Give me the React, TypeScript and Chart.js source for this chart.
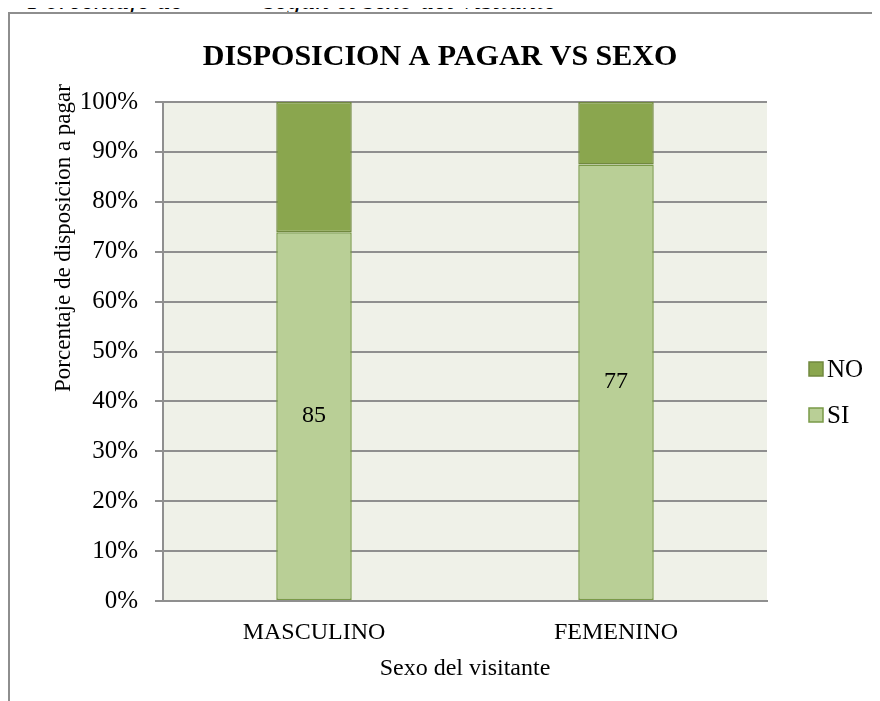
import React, { useEffect, useRef } from 'react';
import { Chart, registerables } from 'chart.js';

Chart.register(...registerables);

// ---------- data ----------
const categories = ['MASCULINO', 'FEMENINO'];
const siCounts = [85, 77];
const noCounts = [30, 11];
const seriesNames = ['SI', 'NO'];
const yTickValues = [0, 10, 20, 30, 40, 50, 60, 70, 80, 90, 100];
const chartTitle = 'DISPOSICION A PAGAR VS SEXO';
const yAxisTitle = 'Porcentaje de disposicion a pagar';
const xAxisTitle = 'Sexo del visitante';
const captionStart = 'Porcentaje de';
const captionEnd = 'según el sexo del visitante';

// ---------- styles ----------
const SERIF = "'Liberation Serif', 'Times New Roman', serif";
const SI_FILL = '#b9cf96';
const SI_BORDER = '#7a9a48';
const NO_FILL = '#8aa64e';
const NO_BORDER = '#71893f';
const PLOT_BG = '#eff1e8';
const GRID = '#8f8f8f';

const totals = siCounts.map((v, i) => v + noCounts[i]);
const siPct = siCounts.map((v, i) => (v / totals[i]) * 100);
const noPct = noCounts.map((v, i) => (v / totals[i]) * 100);

const decorPlugin = {
  id: 'decor',
  beforeDraw(chart: any) {
    const { ctx, chartArea: a } = chart;
    ctx.save();
    ctx.fillStyle = PLOT_BG;
    ctx.fillRect(a.left, a.top, a.right - a.left, a.bottom - a.top);
    ctx.restore();
  },
  afterDatasetsDraw(chart: any) {
    const { ctx } = chart;
    const meta = chart.getDatasetMeta(0);
    ctx.save();
    ctx.font = `24px ${SERIF}`;
    ctx.fillStyle = '#000';
    ctx.textAlign = 'center';
    ctx.textBaseline = 'middle';
    meta.data.forEach((el: any, i: number) => {
      const p = el.getProps(['x', 'y', 'base'], true);
      ctx.fillText(String(siCounts[i]), p.x, (p.y + p.base) / 2);
    });
    ctx.restore();
  },
  afterDraw(chart: any) {
    const { ctx } = chart;
    ctx.save();
    // main title
    ctx.fillStyle = '#000';
    ctx.font = `bold 30px ${SERIF}`;
    ctx.textAlign = 'center';
    ctx.textBaseline = 'middle';
    ctx.fillText(chartTitle, 430, 43);
    // y axis title
    ctx.save();
    ctx.translate(54, 224);
    ctx.rotate(-Math.PI / 2);
    ctx.font = `23px ${SERIF}`;
    ctx.fillText(yAxisTitle, 0, 0);
    ctx.restore();
    // legend (reverse order: NO on top)
    const items = chart.data.datasets.map((d: any) => d).reverse();
    ctx.font = `25px ${SERIF}`;
    ctx.textAlign = 'left';
    items.forEach((d: any, i: number) => {
      const cy = 355 + i * 46;
      ctx.fillStyle = d.backgroundColor;
      ctx.fillRect(799, cy - 7, 14, 14);
      ctx.strokeStyle = d.borderColor;
      ctx.lineWidth = 1.5;
      ctx.strokeRect(799, cy - 7, 14, 14);
      ctx.fillStyle = '#000';
      ctx.fillText(d.label, 817, cy + 1);
    });
    ctx.restore();
  },
};

export default function App() {
  const ref = useRef<HTMLCanvasElement | null>(null);

  useEffect(() => {
    if (!ref.current) return;
    const chart = new Chart(ref.current, {
      type: 'bar',
      data: {
        labels: categories,
        datasets: [
          {
            label: seriesNames[0],
            data: siPct,
            backgroundColor: SI_FILL,
            borderColor: SI_BORDER,
            borderWidth: 1.5,
            borderSkipped: false,
            barPercentage: 0.5,
            categoryPercentage: 0.5,
          },
          {
            label: seriesNames[1],
            data: noPct,
            backgroundColor: NO_FILL,
            borderColor: NO_BORDER,
            borderWidth: 1.5,
            borderSkipped: false,
            barPercentage: 0.5,
            categoryPercentage: 0.5,
          },
        ],
      },
      options: {
        responsive: false,
        animation: false,
        layout: { padding: { top: 88, left: 0, right: 113, bottom: 18 } },
        plugins: {
          legend: { display: false },
          title: { display: false },
          tooltip: { enabled: false },
        },
        scales: {
          x: {
            stacked: true,
            grid: { display: false },
            border: { display: true, color: GRID, width: 2 },
            ticks: {
              color: '#000',
              padding: 9,
              font: { family: SERIF, size: 24 },
            },
            title: {
              display: true,
              text: xAxisTitle,
              color: '#000',
              padding: { top: 0, bottom: 0 },
              font: { family: SERIF, size: 24 },
            },
            afterFit(scale: any) {
              scale.height = 82;
            },
          },
          y: {
            stacked: true,
            min: 0,
            max: 100,
            afterBuildTicks(scale: any) {
              scale.ticks = yTickValues.map((v) => ({ value: v }));
            },
            grid: { color: GRID, lineWidth: 2, tickLength: 8, drawTicks: true },
            border: { display: true, color: GRID, width: 2 },
            ticks: {
              color: '#000',
              padding: 17,
              font: { family: SERIF, size: 25 },
              callback: (v: any) => `${v}%`,
            },
            afterFit(scale: any) {
              scale.width = 153;
            },
          },
        },
      },
      plugins: [decorPlugin],
    });
    return () => chart.destroy();
  }, []);

  const captionStyle: React.CSSProperties = {
    position: 'absolute',
    top: -14,
    fontFamily: SERIF,
    fontStyle: 'italic',
    fontSize: 28,
    lineHeight: '28px',
    whiteSpace: 'nowrap',
  };

  return (
    <div
      style={{
        position: 'relative',
        marginTop: -8,
        width: 872,
        height: 701,
        overflow: 'hidden',
      }}
    >
      <span style={{ ...captionStyle, left: 20 }}>{captionStart}</span>
      <span style={{ ...captionStyle, left: 256 }}>{captionEnd}</span>
      <div
        style={{
          position: 'absolute',
          left: 0,
          top: 12,
          width: 900,
          height: 720,
          boxSizing: 'border-box',
          border: '2px solid #8e8e8e',
          background: '#fff',
        }}
      >
        <canvas
          ref={ref}
          width={870}
          height={687}
          style={{ position: 'absolute', left: 0, top: 0, display: 'block' }}
        />
      </div>
    </div>
  );
}
